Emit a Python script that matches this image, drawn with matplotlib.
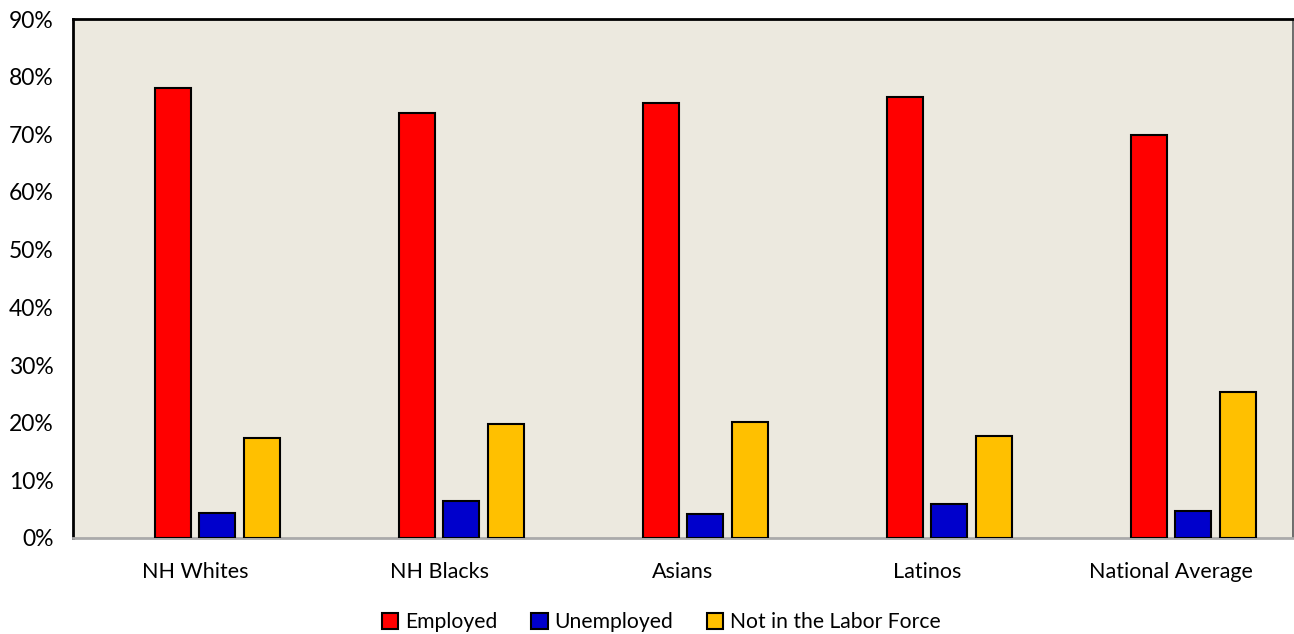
import matplotlib
matplotlib.use("Agg")
import matplotlib.pyplot as plt
import numpy as np
from matplotlib.patches import Patch

categories = ["NH Whites", "NH Blacks", "Asians", "Latinos", "National Average"]
employed = [78.1, 73.7, 75.5, 76.5, 69.9]
unemployed = [4.3, 6.4, 4.2, 5.9, 4.7]
not_in_lf = [17.3, 19.7, 20.2, 17.7, 25.3]
series_names = ["Employed", "Unemployed", "Not in the Labor Force"]
colors = ["#FF0000", "#0000CC", "#FFC000"]
yticks = [0, 10, 20, 30, 40, 50, 60, 70, 80, 90]

plt.rcParams['font.family'] = ['Lato', 'DejaVu Sans']

fig = plt.figure(figsize=(12.94, 6.34), dpi=100)
ax = fig.add_axes([73/1294, 96/634, 1220/1294, 519/634])
ax.set_facecolor("#ECE9DF")

x = np.arange(len(categories))
step = 0.182
width = 0.148
offsets = [-0.5 * step, 0.5 * step, 1.5 * step]
for vals, off, col, name in zip([employed, unemployed, not_in_lf], offsets, colors, series_names):
    ax.bar(x + off, vals, width=width, color=col, edgecolor="black", linewidth=1.5, label=name, zorder=3)

ax.set_xlim(-0.5, len(categories) - 0.5)
ax.set_ylim(0, 90)
ax.set_yticks(yticks)
ax.set_yticklabels([f"{t}%" for t in yticks], fontsize=16.5)
ax.set_xticks(x)
ax.set_xticklabels(categories, fontsize=15.5)
ax.tick_params(axis='y', length=0, pad=14)
ax.tick_params(axis='x', length=0, pad=17)

for s in ["top", "left"]:
    ax.spines[s].set_color("black")
    ax.spines[s].set_linewidth(2)
ax.spines["right"].set_color("#555555")
ax.spines["right"].set_linewidth(1.2)
ax.spines["bottom"].set_color("#AAAAAA")
ax.spines["bottom"].set_linewidth(2)

handles = [Patch(facecolor=c, edgecolor="black", linewidth=1.5, label=n) for c, n in zip(colors, series_names)]
fig.legend(handles=handles, loc="center", bbox_to_anchor=(661/1294, 1 - 622/634), ncol=3,
           frameon=False, fontsize=15.2, handlelength=0.8, handleheight=0.8, handletextpad=0.3, columnspacing=1.6)

fig.savefig("out.png", dpi=100)
